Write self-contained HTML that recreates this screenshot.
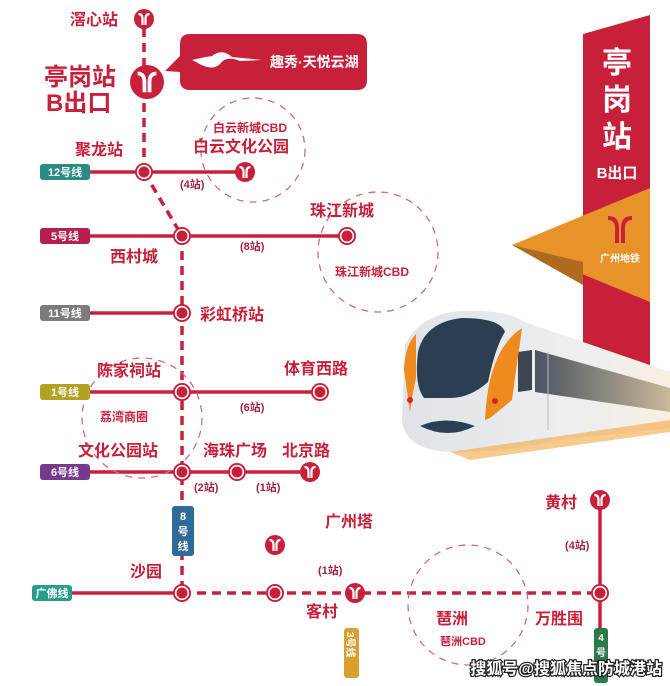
<!DOCTYPE html>
<html><head><meta charset="utf-8"><style>
html,body{margin:0;padding:0;background:#fff}
svg{display:block}
text{font-family:"Liberation Sans","Noto Sans CJK SC",sans-serif;font-weight:bold}
</style></head><body>
<svg width="670" height="686" viewBox="0 0 670 686" xmlns="http://www.w3.org/2000/svg">
<defs>
<g id="st"><circle r="9" fill="#c8203a"/><circle r="6.3" fill="none" stroke="#fff" stroke-width="1.6"/></g>
<g id="mt"><circle r="10" fill="#c8203a"/><path d="M-5.5,-5 Q-1.5,-5 -1.5,0 L-1.5,6 M5.5,-5 Q1.5,-5 1.5,0 L1.5,6" stroke="#fff" stroke-width="2.2" fill="none"/></g>
<linearGradient id="tg" x1="0" y1="0" x2="1" y2="0"><stop offset="0" stop-color="#dfe3e7"/><stop offset="0.6" stop-color="#eceef0"/><stop offset="1" stop-color="#f8efe2"/></linearGradient>
<linearGradient id="wg" x1="0" y1="0" x2="1" y2="0"><stop offset="0" stop-color="#4a5562"/><stop offset="1" stop-color="#c9b89a"/></linearGradient>
</defs>
<g fill="none" stroke-width="3.5" stroke="#c8203a">
<path d="M144,28 L144,172" stroke-dasharray="9,6"/>
<path d="M144,172 L182,236" stroke-dasharray="9,6"/>
<path d="M182,236 L182,593" stroke-dasharray="9,6"/>
<path d="M182,593 L600,593" stroke-dasharray="9,6"/>
<path d="M90,172 L245,172"/>
<path d="M90,236 L347,236"/>
<path d="M90,313 L182,313"/>
<path d="M90,392 L320,392"/>
<path d="M90,472 L310,472"/>
<path d="M70,593 L182,593"/>
<path d="M600,500 L600,640"/>
</g>
<g fill="none" stroke="#d46a7a" stroke-width="1.3" stroke-dasharray="7,6">
<circle cx="253" cy="150" r="52"/>
<circle cx="378" cy="252" r="60"/>
<circle cx="142" cy="418" r="60"/>
<circle cx="468" cy="605" r="60"/>
</g>
<g font-size="11" fill="#fff">
<rect x="40" y="164" width="50" height="16" rx="3" fill="#2a8a84"/><text x="65" y="176" text-anchor="middle" fill="#fff">12号线</text>
<rect x="40" y="228" width="50" height="16" rx="3" fill="#b51e4e"/><text x="65" y="240" text-anchor="middle" fill="#fff">5号线</text>
<rect x="40" y="305" width="50" height="16" rx="3" fill="#7b7b7b"/><text x="65" y="317" text-anchor="middle" fill="#fff">11号线</text>
<rect x="40" y="384" width="50" height="16" rx="3" fill="#b3a21f"/><text x="65" y="396" text-anchor="middle" fill="#fff">1号线</text>
<rect x="40" y="464" width="50" height="16" rx="3" fill="#7a3a8c"/><text x="65" y="476" text-anchor="middle" fill="#fff">6号线</text>
<rect x="32" y="585" width="40" height="16" rx="3" fill="#2a9c8e"/><text x="52" y="597" text-anchor="middle" fill="#fff">广佛线</text>
<rect x="172" y="506" width="22" height="50" rx="3" fill="#2f6b98"/>
<text x="183" y="520" text-anchor="middle" fill="#fff">8</text><text x="183" y="535" text-anchor="middle" fill="#fff">号</text><text x="183" y="550" text-anchor="middle" fill="#fff">线</text>
<rect x="344" y="628" width="15" height="50" rx="3" fill="#d9a030"/>
<text transform="translate(347,632) rotate(90)" font-size="10" fill="#fff">3号线</text>
<rect x="594" y="628" width="14" height="55" rx="3" fill="#2b7a4a"/>
<text x="601" y="641" text-anchor="middle" font-size="10" fill="#fff">4</text><text x="601" y="656" text-anchor="middle" font-size="10" fill="#fff">号</text>
</g>
<use href="#mt" x="144" y="19"/>
<g transform="translate(147,82) scale(1.7)"><use href="#mt"/></g>
<use href="#st" x="144" y="172"/>
<use href="#mt" x="245" y="172"/>
<use href="#st" x="182" y="236"/>
<use href="#st" x="347" y="236"/>
<use href="#st" x="182" y="313"/>
<use href="#st" x="182" y="392"/>
<use href="#st" x="320" y="392"/>
<use href="#st" x="182" y="472"/>
<use href="#st" x="237" y="472"/>
<use href="#mt" x="310" y="472"/>
<use href="#st" x="182" y="593"/>
<use href="#mt" x="275" y="545"/>
<use href="#st" x="275" y="593"/>
<use href="#mt" x="355" y="593"/>
<use href="#mt" x="600" y="500"/>
<use href="#st" x="600" y="593"/>
<path d="M190,34 H357 Q367,34 367,44 V80 Q367,90 357,90 H190 Q180,90 180,80 V72 L165,71 L180,56 V44 Q180,34 190,34 Z" fill="#c8203a"/>
<path d="M192,60 Q200,58 212,56 Q222,48 232,57 L262,60 L240,61 Q226,55 220,64 Q212,72 196,62 Z" fill="#fff"/>
<text x="270" y="67" font-size="14" fill="#fff" font-weight="normal">趣秀·天悦云湖</text>
<g fill="#c8203a">
<text x="70" y="25" font-size="16">滘心站</text>
<text x="44" y="85" font-size="24">亭岗站</text>
<text x="46" y="111" font-size="24">B出口</text>
<text x="75" y="155" font-size="16">聚龙站</text>
<text x="213" y="132" font-size="12">白云新城CBD</text>
<text x="193" y="152" font-size="16">白云文化公园</text>
<text x="180" y="188" font-size="11" fill="#a0243f">(4站)</text>
<text x="110" y="262" font-size="16">西村城</text>
<text x="240" y="250" font-size="11" fill="#a0243f">(8站)</text>
<text x="310" y="216" font-size="16">珠江新城</text>
<text x="335" y="276" font-size="12">珠江新城CBD</text>
<text x="200" y="320" font-size="16">彩虹桥站</text>
<text x="97" y="376" font-size="16">陈家祠站</text>
<text x="284" y="374" font-size="16">体育西路</text>
<text x="240" y="411" font-size="11" fill="#a0243f">(6站)</text>
<text x="100" y="421" font-size="12">荔湾商圈</text>
<text x="78" y="456" font-size="16">文化公园站</text>
<text x="203" y="456" font-size="16">海珠广场</text>
<text x="282" y="456" font-size="16">北京路</text>
<text x="194" y="491" font-size="11" fill="#a0243f">(2站)</text>
<text x="256" y="491" font-size="11" fill="#a0243f">(1站)</text>
<text x="325" y="527" font-size="16">广州塔</text>
<text x="318" y="574" font-size="11" fill="#a0243f">(1站)</text>
<text x="130" y="577" font-size="16">沙园</text>
<text x="306" y="617" font-size="16">客村</text>
<text x="436" y="624" font-size="16">琶洲</text>
<text x="440" y="645" font-size="11">琶洲CBD</text>
<text x="535" y="624" font-size="16">万胜围</text>
<text x="545" y="508" font-size="16">黄村</text>
<text x="565" y="549" font-size="11" fill="#a0243f">(4站)</text>
</g>
<path d="M583,34 L650,15 V372 H583 Z" fill="#c8203a"/>
<path d="M512,245 L650,188 V302 Z" fill="#e8922a"/>
<path d="M512,245 L583,262 V285 Z" fill="#b06a20"/>
<path d="M608,218 Q617,218 617,228 V243 M632,218 Q623,218 623,228 V243" stroke="#c8203a" stroke-width="4" fill="none"/>
<text x="620" y="262" font-size="10" fill="#fff" text-anchor="middle">广州地铁</text>
<g fill="#fff" text-anchor="middle">
<text x="617" y="73" font-size="30">亭</text>
<text x="617" y="110" font-size="30">岗</text>
<text x="617" y="147" font-size="30">站</text>
<text x="617" y="178" font-size="15">B出口</text>
</g>
<!-- train -->
<path d="M405,345 Q420,314 460,311 Q505,309 525,322 L670,372 V428 L560,440 Q510,452 450,452 Q405,450 402,420 Z" fill="url(#tg)"/>
<path d="M535,350 L670,388 V412 L535,392 Z" fill="url(#wg)"/>
<path d="M518,352 L532,350 L532,390 L518,392 Z" fill="#3c4652"/>
<path d="M418,352 Q425,322 462,318 Q500,318 505,332 Q496,345 488,382 Q470,398 450,398 L424,398 Q414,385 418,352 Z" fill="#2b3e52"/>
<path d="M404,370 Q405,345 416,334 L416,378 Q412,395 410,412 Z" fill="#ef8a1e"/>
<path d="M485,420 Q488,350 522,328 L512,400 Q500,410 490,418 Z" fill="#ef8a1e"/>
<circle cx="410" cy="400" r="3" fill="#d22"/><circle cx="495" cy="401" r="3" fill="#d22"/>
<path d="M420,426 Q445,415 475,426 Q448,440 420,426 Z" fill="#2b3e52"/>
<path d="M548,352 V430" stroke="#b9bec4" stroke-width="1"/>
<path d="M450,452 L670,420 V432 L470,460 Z" fill="#f3a640" opacity="0.6"/>
<text x="662" y="674" font-size="16" fill="#fff" stroke="#222" stroke-width="2.5" paint-order="stroke" text-anchor="end">搜狐号@搜狐焦点防城港站</text>
</svg>
</body></html>
